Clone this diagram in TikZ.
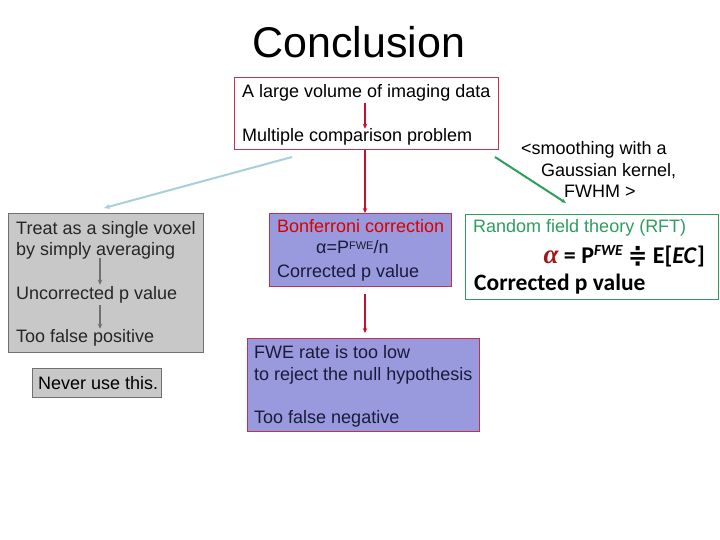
\documentclass[tikz,border=0pt]{standalone}
\usepackage{fontspec}
\setmainfont{Liberation Sans}
\newfontfamily\calib{Carlito}
\newfontfamily\dejavu{DejaVu Sans}
\newfontfamily\timesf{Liberation Serif}
\usetikzlibrary{arrows.meta,calc}
\definecolor{boxred}{HTML}{C03050}
\definecolor{arrred}{HTML}{C8102E}
\definecolor{purp}{HTML}{9999DD}
\definecolor{navy}{HTML}{1A1A3A}
\definecolor{grfill}{HTML}{C8C8C8}
\definecolor{grline}{HTML}{707070}
\definecolor{grtext}{HTML}{262626}
\definecolor{rftgreen}{HTML}{2E9E5E}
\definecolor{lblue}{HTML}{A8D0D8}
\definecolor{alphared}{HTML}{A01818}
\begin{document}
\begin{tikzpicture}[x=1pt,y=-1pt,
  frame/.style={draw, line width=1.1pt, inner sep=0pt, anchor=north west},
  txt/.style={inner sep=0pt, anchor=base west, font=\fontsize{18}{21}\selectfont},
  redarrow/.style={draw=arrred, line width=1.5pt, -{Stealth[length=5pt,width=4.5pt]}},
  grayarrow/.style={draw=grline, line width=1.1pt, -{Stealth[length=5pt,width=4.5pt]}}]
\useasboundingbox[fill=white] (0,0) rectangle (720,540);

% title
\node[inner sep=0pt, anchor=base, font=\fontsize{43}{50}\selectfont] (title) at (359,58) {Conclusion};

% top box
\node[frame, draw=boxred, fill=white, minimum width=264pt, minimum height=72pt] (top) at (234,77) {};
\node[txt] (t1) at (242,98) {A large volume of imaging data};
\node[txt] (t2) at (242,142) {Multiple comparison problem};
\coordinate (ax) at (365,0);
\draw[redarrow] ($(t1.south -| ax)+(0,1)$) -- ($(t2.north -| ax)$);

% gray box
\node[frame, draw=grline, fill=grfill, minimum width=195pt, minimum height=139pt] (gray) at (8,213) {};
\node[txt, text=grtext] (g1) at (16,235) {Treat as a single voxel};
\node[txt, text=grtext] (g2) at (16,255) {by simply averaging};
\node[txt, text=grtext] (g3) at (16,299) {Uncorrected p value};
\node[txt, text=grtext] (g4) at (16,342) {Too false positive};
\coordinate (gx) at (100,0);
\draw[grayarrow] ($(g2.base -| gx)+(0,3)$) -- ($(g3.north -| gx)+(0,-1)$);
\draw[grayarrow] ($(g3.base -| gx)+(0,6)$) -- ($(g4.north -| gx)+(0,0)$);

\node[frame, draw=grline, fill=grfill, line width=1pt, minimum width=129pt, minimum height=29pt] (never) at (32,368) {};
\node[txt] (nv) at (38,389) {Never use this.};

% Bonferroni box
\node[frame, draw=boxred, fill=purp, minimum width=182pt, minimum height=73pt] (bon) at (269,213) {};
\node[txt, text=red!85!black] (b1) at (277,233) {Bonferroni correction};
\node[txt, text=navy] (b2) at (316,254) {α=P\raisebox{5pt}{\fontsize{11}{13}\selectfont FWE}/n};
\node[txt, text=navy] (b3) at (277,277) {Corrected p value};

% FWE box
\node[frame, draw=boxred, fill=purp, minimum width=232pt, minimum height=93pt] (fwe) at (247,338) {};
\node[txt, text=navy] (f1) at (254,358) {FWE rate is too low};
\node[txt, text=navy] (f2) at (254,380) {to reject the null hypothesis};
\node[txt, text=navy] (f3) at (254,423) {Too false negative};

% RFT box
\node[frame, draw=rftgreen, fill=white, minimum width=253pt, minimum height=85pt] (rft) at (465,214) {};
\node[txt, text=rftgreen] (r1) at (473,233) {Random field theory (RFT)};
\node[inner sep=0pt, anchor=base east] (r2) at (705,263)
  {{\timesf\bfseries\itshape\fontsize{27}{28}\selectfont\color{alphared}α}%
   {\calib\bfseries\fontsize{24}{26}\selectfont\ =\ P\raisebox{8pt}{\itshape\fontsize{15.5}{16}\selectfont FWE}\ }%
   {\dejavu\bfseries\fontsize{23}{26}\selectfont ≑}%
   {\calib\bfseries\fontsize{24}{26}\selectfont\ E[\textit{EC}]}};
\node[inner sep=0pt, anchor=base west, font=\calib\bfseries\fontsize{23.5}{26}\selectfont] (r3) at (474,290) {Corrected p value};

% smoothing label
\node[txt] (s1) at (521,155) {<smoothing with a};
\node[txt] (s2) at (541,177) {Gaussian kernel,};
\node[txt] (s3) at (564,197) {FWHM >};

% connectors
\draw[redarrow] (top.south -| ax) -- (bon.north -| ax);
\draw[redarrow] ($(bon.south -| ax)+(0,7)$) -- ($(fwe.north -| ax)+(0,-5)$);
\coordinate (lbstart) at (292,157);
\coordinate (lbend) at (104,208);
\draw[draw=lblue, line width=2pt, -{Stealth[length=6pt,width=5pt]}] (lbstart) -- (lbend);
\coordinate (gstart) at (495,157);
\coordinate (gend) at (566,203);
\draw[draw=rftgreen, line width=2pt, -{Stealth[length=5pt,width=4pt]}] (gstart) -- (gend);
\end{tikzpicture}
\end{document}
